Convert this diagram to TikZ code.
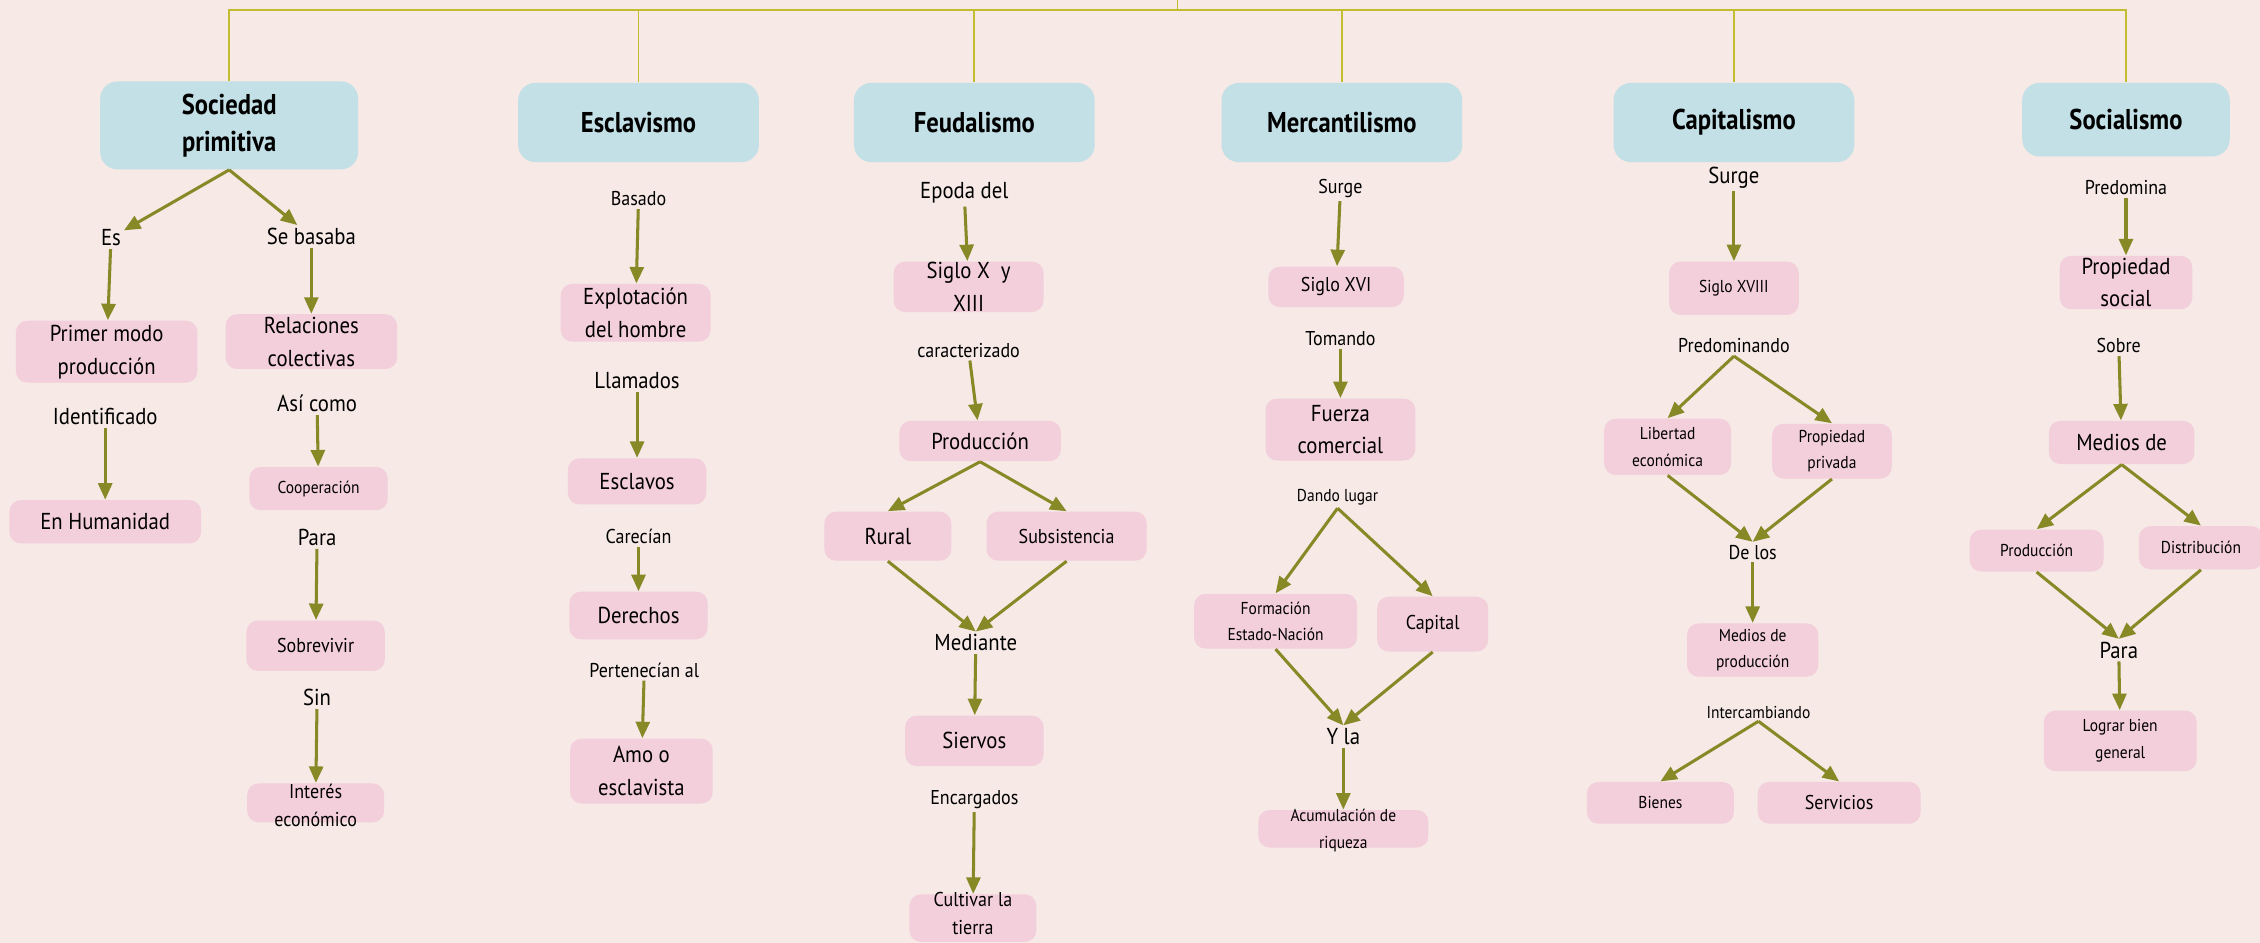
\documentclass[tikz,border=0pt]{standalone}
\usepackage{fontspec}
\setmainfont{PT Sans}[FakeStretch=0.9]
\newfontfamily\titfam{PT Sans}[FakeStretch=0.86]
\usetikzlibrary{arrows.meta}

\definecolor{fondo}{HTML}{F6E9E6}
\definecolor{azul}{HTML}{C2E0E6}
\definecolor{rosa}{HTML}{F3CEDB}
\definecolor{oliva}{HTML}{878826}
\definecolor{linea}{HTML}{C2BD2E}

\newcommand\fnormal{\fontsize{9.1}{13}\selectfont}
\newcommand\fmedio{\fontsize{7.9}{11}\selectfont}
\newcommand\fchico{\fontsize{6.8}{10.5}\selectfont}
\newcommand\ftitulo{\titfam\fontsize{11.3}{14.7}\selectfont\bfseries}

\begin{document}
\begin{tikzpicture}[x=0.02cm, y=-0.02cm,
    every node/.style={font=\fnormal, align=center},
    tit/.style={fill=azul, rounded corners=0.24cm, font=\ftitulo, inner sep=0pt},
    caja/.style={fill=rosa, rounded corners=0.16cm, inner sep=0pt},
    tam/.style 2 args={minimum width=#1*0.02cm, minimum height=#2*0.02cm},
    etq/.style={inner sep=1pt},
    medio/.style={font=\fmedio},
    chico/.style={font=\fchico},
    flecha/.style={draw=oliva, line width=1.2pt, -{Triangle[length=6.5pt,width=5.5pt]}},
    bus/.style={draw=linea, line width=0.7pt}
  ]
  \fill[fondo] (0,0) rectangle (1568,654);
  \useasboundingbox (0,0) rectangle (1568,654);

  % titulos
  \node (sp) [tit, tam={179}{61}] at (159,87) {Sociedad\\primitiva};
  \node (esc) [tit, tam={167}{55}] at (443,85) {Esclavismo};
  \node (feu) [tit, tam={167}{55}] at (676,85) {Feudalismo};
  \node (mer) [tit, tam={167}{55}] at (931,85) {Mercantilismo};
  \node (capi) [tit, tam={167}{55}] at (1203,85) {Capitalismo};
  \node (soc) [tit, tam={144}{51}] at (1475,83) {Socialismo};

  \coordinate (raiz) at (817,0);
  \coordinate (bus) at (817,7);
  \draw[bus] (raiz) -- (bus);
  \foreach \tema in {sp,esc,feu,mer,capi,soc}
    \draw[bus] (bus) -| (\tema.north);

  % sociedad primitiva
  \node (es) [etq] at (77,165) {Es};
  \node (sb) [etq] at (216,164) {Se basaba};
  \node (pm) [caja, tam={126}{43}] at (74,244) {Primer modo\\producción};
  \node (ide) [etq] at (73,289) {Identificado};
  \node (hum) [caja, tam={133}{30}] at (73,362) {En Humanidad};
  \node (rc) [caja, tam={119}{38}] at (216,237) {Relaciones\\colectivas};
  \node (ac) [etq] at (220,280) {Así como};
  \node (coop) [caja, chico, tam={96}{30}] at (221,339) {Cooperación};
  \node (para1) [etq] at (220,373) {Para};
  \node (sob) [caja, medio, tam={96}{35}] at (219,448) {Sobrevivir};
  \node (sin) [etq] at (220,484) {Sin};
  \node (ie) [caja, tam={95}{27}] at (219,557) {};
  \node (ietx) [medio] at (219,559) {Interés\\económico};

  \draw[flecha] (sp.south) -- (es);
  \draw[flecha] (sp.south) -- (sb);
  \draw[flecha] (es) -- (pm);
  \draw[flecha] (ide) -- (hum);
  \draw[flecha] (sb) -- (rc);
  \draw[flecha] (ac) -- (coop);
  \draw[flecha] (para1) -- (sob);
  \draw[flecha] (sin) -- (ie);

  % esclavismo
  \node (bas) [etq, medio] at (443,138) {Basado};
  \node (expl) [caja, tam={104}{40}] at (441,217) {Explotación\\del hombre};
  \node (lla) [etq] at (442,264) {Llamados};
  \node (escl) [caja, tam={96}{32}] at (442,334) {Esclavos};
  \node (car) [etq, medio] at (443,372) {Carecían};
  \node (der) [caja, tam={96}{33}] at (443,427) {Derechos};
  \node (per) [etq, medio] at (447,465) {Pertenecían al};
  \node (amo) [caja, tam={99}{45}] at (445,535) {Amo o\\esclavista};

  \draw[flecha] (bas) -- (expl);
  \draw[flecha] (lla) -- (escl);
  \draw[flecha] (car) -- (der);
  \draw[flecha] (per) -- (amo);

  % feudalismo
  \node (epo) [etq] at (669,134) {Epoda del};
  \node (s10) [caja, tam={104}{35}] at (672,199) {Siglo X~~y\\XIII};
  \node (carac) [etq, medio] at (672,243) {caracterizado};
  \node (prod) [caja, tam={112}{28}] at (680,306) {Producción};
  \node (rur) [caja, tam={88}{34}] at (616,372) {Rural};
  \node (sub) [caja, medio, tam={111}{34}] at (740,372) {Subsistencia};
  \node (medi) [etq] at (677,446) {Mediante};
  \node (sie) [caja, tam={96}{35}] at (676,514) {Siervos};
  \node (enc) [etq, medio] at (676,555) {Encargados};
  \node (cul) [caja, tam={88}{33}] at (675,637) {};
  \node (cultx) [medio] at (675,634) {Cultivar la\\tierra};

  \draw[flecha] (epo) -- (s10);
  \draw[flecha] (carac) -- (prod);
  \draw[flecha] (prod.south) -- (rur.north);
  \draw[flecha] (prod.south) -- (sub.north);
  \draw[flecha] (rur.south) -- (medi.north);
  \draw[flecha] (sub.south) -- (medi.north);
  \draw[flecha] (medi) -- (sie);
  \draw[flecha] (enc) -- (cul);

  % mercantilismo
  \node (sur1) [etq, medio] at (930,131) {Surge};
  \node (s16) [caja, medio, tam={94}{28}] at (927,199) {Siglo XVI};
  \node (tom) [etq, medio] at (930,235) {Tomando};
  \node (fz) [caja, tam={104}{43}] at (930,298) {Fuerza\\comercial};
  \node (dl) [etq, chico] at (928,345) {Dando lugar};
  \node (fen) [caja, chico, tam={113}{38}] at (885,431) {Formación\\Estado-Nación};
  \node (capt) [caja, medio, tam={77}{38}] at (994,433) {Capital};
  \node (yla) [etq] at (932,511) {Y la};
  \node (acu) [caja, tam={118}{26}] at (932,575) {};
  \node (acutx) [chico] at (932,576) {Acumulación de\\riqueza};

  \draw[flecha] (sur1) -- (s16);
  \draw[flecha] (tom) -- (fz);
  \draw[flecha] (dl.south) -- (fen.north);
  \draw[flecha] (dl.south) -- (capt.north);
  \draw[flecha] (fen.south) -- (yla.north);
  \draw[flecha] (capt.south) -- (yla.north);
  \draw[flecha] (yla) -- (acu);

  % capitalismo
  \node (sur2) [etq] at (1203,123) {Surge};
  \node (s18) [caja, chico, tam={90}{37}] at (1203,200) {Siglo XVIII};
  \node (pdo) [etq, medio] at (1203,240) {Predominando};
  \node (lib) [caja, chico, tam={88}{39}] at (1157,310) {Libertad\\económica};
  \node (pp) [caja, chico, tam={83}{38}] at (1271,313) {Propiedad\\privada};
  \node (delos) [etq, medio] at (1216,383) {De los};
  \node (mp) [caja, chico, tam={91}{37}] at (1216,451) {Medios de\\producción};
  \node (int) [etq, chico] at (1220,494) {Intercambiando};
  \node (bie) [caja, chico, tam={102}{29}] at (1152,557) {Bienes};
  \node (ser) [caja, medio, tam={113}{29}] at (1276,557) {Servicios};

  \draw[flecha] (sur2) -- (s18);
  \draw[flecha] (pdo.south) -- (lib.north);
  \draw[flecha] (pdo.south) -- (pp.north);
  \draw[flecha] (lib.south) -- (delos.north);
  \draw[flecha] (pp.south) -- (delos.north);
  \draw[flecha] (delos) -- (mp);
  \draw[flecha] (int.south) -- (bie.north);
  \draw[flecha] (int.south) -- (ser.north);

  % socialismo
  \node (pre) [etq, medio] at (1475,130) {Predomina};
  \node (ps) [caja, tam={92}{37}] at (1475,196) {Propiedad\\social};
  \node (sobr) [etq, medio] at (1470,240) {Sobre};
  \node (mde) [caja, tam={101}{30}] at (1472,307) {Medios de};
  \node (pro2) [caja, chico, tam={93}{29}] at (1413,382) {Producción};
  \node (dis) [caja, chico, tam={86}{30}] at (1527,380) {Distribución};
  \node (para2) [etq] at (1470,451) {Para};
  \node (log) [caja, chico, tam={106}{42}] at (1471,514) {Lograr bien\\general};

  \draw[flecha] (pre) -- (ps);
  \draw[flecha] (sobr) -- (mde);
  \draw[flecha] (mde.south) -- (pro2.north);
  \draw[flecha] (mde.south) -- (dis.north);
  \draw[flecha] (pro2.south) -- (para2.north);
  \draw[flecha] (dis.south) -- (para2.north);
  \draw[flecha] (para2) -- (log);
\end{tikzpicture}
\end{document}
